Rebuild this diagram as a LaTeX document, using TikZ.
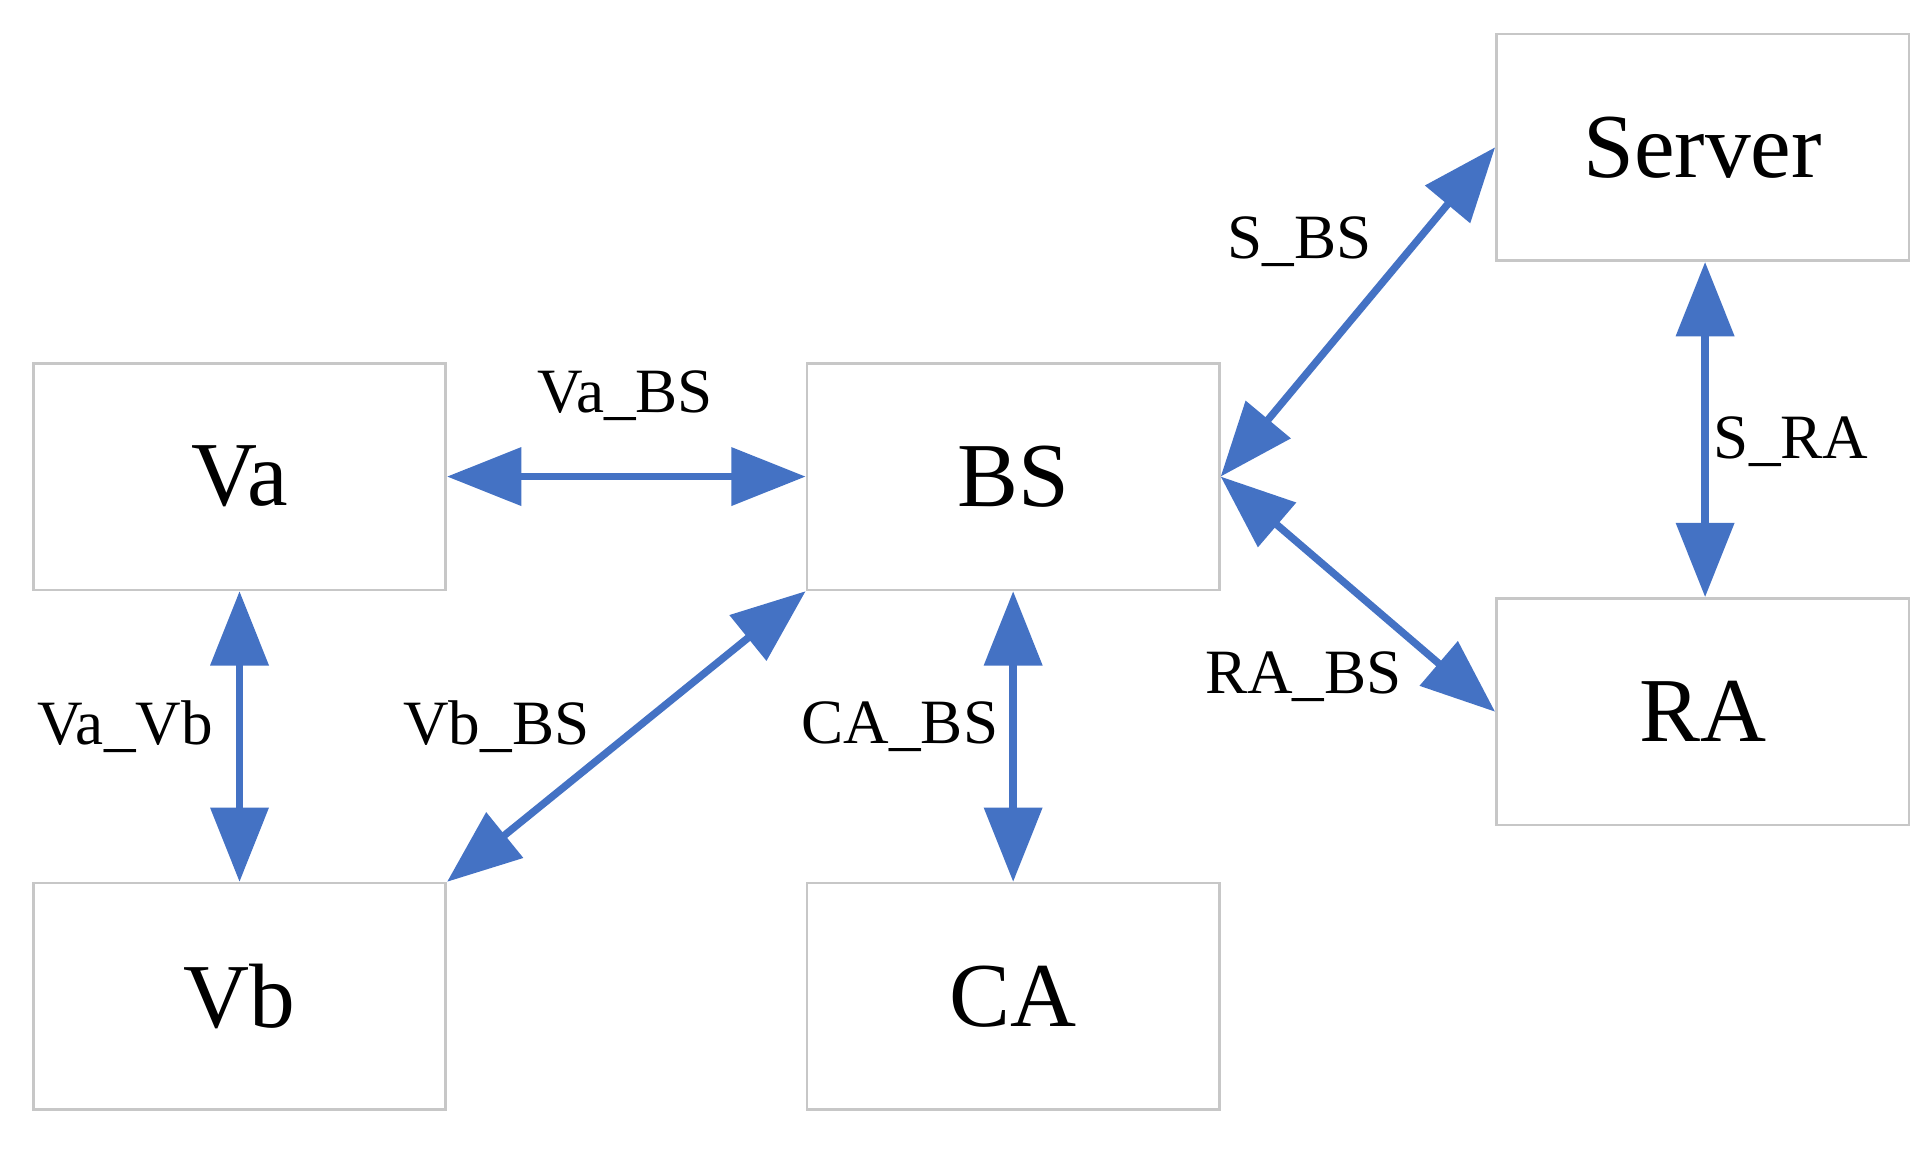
\documentclass[tikz,border=0pt]{standalone}
\usepackage{fontspec}
\setmainfont{Liberation Serif}
\usetikzlibrary{arrows.meta}
\definecolor{ab}{HTML}{4472C4}
\begin{document}
\begin{tikzpicture}[x=0.01cm,y=-0.01cm,
 box/.style={draw=black!22,line width=0.6pt,minimum width=3.33cm,minimum height=1.83cm,font=\fontsize{21}{24}\selectfont},
 conn/.style={draw=ab,line width=1.7pt,{Triangle[length=0.6cm,width=0.46cm]}-{Triangle[length=0.6cm,width=0.46cm]}},
 lab/.style={font=\fontsize{14.5}{16}\selectfont}]
\useasboundingbox (0,0) rectangle (1560,939);
\node[box] (va) at (193.5,385) {Va};
\node[box] (bs) at (818.5,385) {BS};
\node[box] (srv) at (1375.5,119) {Server};
\node[box] (ra) at (1375.5,575) {RA};
\node[box] (vb) at (193.5,805) {Vb};
\node[box] (ca) at (818.5,805) {CA};
\draw[conn] (va.east) -- (bs.west);
\draw[conn] (bs.east) -- (srv.west);
\draw[conn] (bs.east) -- (ra.west);
\draw[conn] ([xshift=0.02cm]srv.south) -- ([xshift=0.02cm]ra.north);
\draw[conn] (va.south) -- (vb.north);
\draw[conn] (vb.north east) -- (bs.south west);
\draw[conn] (bs.south) -- (ca.north);
\node[lab] (l1) at (505,320) {Va\_BS};
\node[lab] (l2) at (1050,195) {S\_BS};
\node[lab] (l3) at (1447,357) {S\_RA};
\node[lab] (l4) at (1053,547) {RA\_BS};
\node[lab] (l5) at (101,587) {Va\_Vb};
\node[lab] (l6) at (401,587) {Vb\_BS};
\node[lab] (l7) at (727,587) {CA\_BS};
\end{tikzpicture}
\end{document}
